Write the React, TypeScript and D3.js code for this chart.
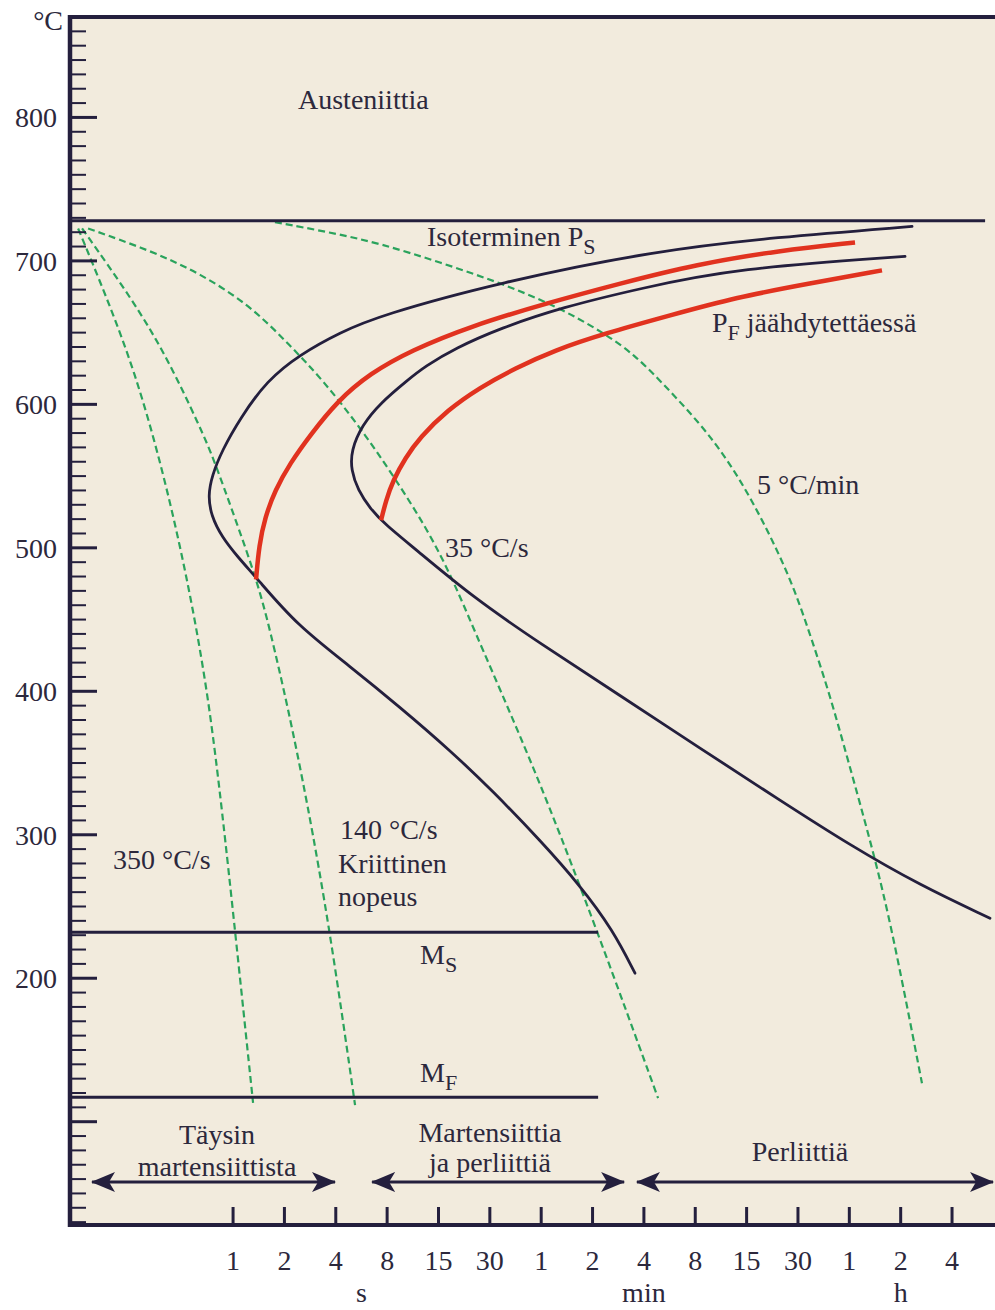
import React, { useEffect, useRef } from "react"
import * as d3 from "d3"

type Pt = [number, number] // [time in s, temperature in °C]

// isothermal transformation: start (outer C) and finish (inner C)
const isoStart: Pt[] = [
  [9548, 724], [1502, 716.4], [306, 707.3], [36.2, 685], [7.27, 662], [4.24, 650.2],
  [2.47, 634.8], [1.58, 616.7], [1.099, 590.2], [0.862, 567.9], [0.753, 550.5],
  [0.714, 536.6], [0.743, 522.6], [0.862, 507.3], [1.07, 493.4], [1.38, 478.7],
  [2.37, 446], [4.85, 417.4], [9.52, 388.9], [18.7, 358.9], [33.4, 330.3],
  [63, 296.2], [108, 264.8], [169, 233.4], [227, 203.5],
]
const isoFinish: Pt[] = [
  [8686, 703.1], [888, 694.8], [243, 680.8], [84.8, 667.6], [36.7, 653], [20, 639],
  [13.35, 626.5], [10.5, 616.7], [7.27, 600.7], [5.7, 585.4], [4.92, 567.9],
  [4.92, 554], [5.4, 540.1], [6.35, 527.5], [7.78, 516.4], [11.4, 500.3],
  [25.5, 465.5], [63, 433.4], [185, 397.2], [546, 360.3], [1607, 324],
  [4135, 292.7], [10630, 264.8], [27350, 241.8],
]

// transformation during continuous cooling (red)
const coolStart: Pt[] = [
  [1.364, 478], [1.42, 501.7], [1.54, 521.3], [1.763, 540.1], [2.158, 558.9],
  [2.827, 578.4], [4.07, 602.1], [6.35, 621.6], [11.05, 637.6], [24.5, 654.4],
  [68.3, 670.4], [185.5, 684.3], [517, 697.6], [1607, 707.3], [4424, 712.9],
]
const coolFinish: Pt[] = [
  [7.37, 519.2], [7.88, 533.1], [8.67, 547], [10.19, 562.4], [12.48, 577],
  [17.96, 595.8], [28, 611.8], [45, 625.1], [76.1, 637.6], [151.5, 649.5],
  [364, 662], [888, 674.6], [2409, 684.3], [6366, 693.4],
]

// cooling curves (green, dashed)
const rate350: Pt[] = [
  [0.1235, 722.6], [0.1826, 673.9], [0.2663, 622.3], [0.3733, 561], [0.4892, 501.7],
  [0.607, 446], [0.733, 386.8], [0.862, 317.1], [1.027, 233.4], [1.31, 113.1],
]
const rate140: Pt[] = [
  [0.1303, 722.6], [0.259, 672.5], [0.41, 632.8], [0.641, 584], [0.764, 563],
  [1.027, 520.6], [1.38, 477.4], [1.65, 442.5], [2.101, 388.2], [2.71, 324],
  [3.7, 233.4], [5.19, 111.5],
]
const rate35: Pt[] = [
  [0.1413, 722.6], [0.326, 707.3], [0.641, 691.3], [1.258, 669], [2.158, 641.1],
  [3.37, 616.7], [5.55, 584], [8.67, 550.5], [13.9, 512.2], [19.5, 477.4],
  [25.5, 444.6], [42, 385.4], [69.3, 324], [136, 233.4], [310, 116.4],
]
const rate5min: Pt[] = [
  [1.76, 727], [3.7, 719.9], [7.27, 712.2], [16.34, 699], [36.2, 685], [77.1, 669],
  [151.5, 649.5], [227, 634.1], [318, 616.7], [546, 586.8], [797, 561], [1101, 533.1],
  [1502, 501.7], [1968, 470.4], [2475, 435.5], [3156, 397.2], [4023, 351.9],
  [5640, 289.2], [7383, 231.4], [10920, 126.8],
]

const A1_TEMP = 728
const MS_TEMP = 232
const MF_TEMP = 117
const A1_END = 25600 // s
const M_END = 138 // s

const tempLabels = [200, 300, 400, 500, 600, 700, 800]
const timeTicks = [1, 2, 4, 8, 16, 32, 64, 128, 256, 512, 1024, 2048, 4096, 8192, 16384]
const timeTickLabels = ["1", "2", "4", "8", "15", "30", "1", "2", "4", "8", "15", "30", "1", "2", "4"]
const timeUnits = ["s", "min", "h"]
const timeUnitAt = [5.66, 256, 8192]

const regionSpans: [number, number][] = [[0.149, 3.96], [6.53, 196], [233, 28500]]

const W = 995
const H = 1310
const LEFT = 70
const RIGHT = 995
const TOP = 17
const BOTTOM = 1225

const INK = "#241f3d"
const TXT = "#2c283c"
const FONT = "'Liberation Serif', 'Times New Roman', serif"

const drawChart = (svgEl: SVGSVGElement) => {
  const svg = d3.select(svgEl)
  svg.selectAll("*").remove()

  const x = d3.scaleLog().base(2).domain([0.1107, 29260]).range([LEFT, RIGHT])
  const y = d3.scaleLinear().domain([28, 870]).range([BOTTOM, TOP])

  const defs = svg.append("defs")
  defs
    .append("marker")
    .attr("id", "arr")
    .attr("viewBox", "0 0 24 20")
    .attr("refX", 23)
    .attr("refY", 10)
    .attr("markerWidth", 24)
    .attr("markerHeight", 20)
    .attr("markerUnits", "userSpaceOnUse")
    .attr("orient", "auto-start-reverse")
    .append("path")
    .attr("d", "M0,0 L24,10 L0,20 L6,10 Z")
    .attr("fill", INK)

  // plot background
  svg
    .append("rect")
    .attr("x", LEFT)
    .attr("y", TOP)
    .attr("width", RIGHT - LEFT)
    .attr("height", BOTTOM - TOP)
    .attr("fill", "#f2ebdd")

  const line = d3
    .line<Pt>()
    .x(d => x(d[0]))
    .y(d => y(d[1]))
    .curve(d3.curveBasis)

  // cooling curves
  ;[rate350, rate140, rate35, rate5min].forEach(pts => {
    svg
      .append("path")
      .attr("d", line(pts))
      .attr("fill", "none")
      .attr("stroke", "#2aa35c")
      .attr("stroke-width", 2.2)
      .attr("stroke-dasharray", "7,4")
  })

  // horizontal lines A1, Ms, Mf
  const hLines: [number, number][] = [[A1_TEMP, A1_END], [MS_TEMP, M_END], [MF_TEMP, M_END]]
  hLines.forEach(([temp, end]) => {
    svg
      .append("line")
      .attr("x1", LEFT)
      .attr("x2", x(end))
      .attr("y1", y(temp))
      .attr("y2", y(temp))
      .attr("stroke", INK)
      .attr("stroke-width", 3)
  })

  // C-curves
  ;[isoStart, isoFinish].forEach(pts => {
    svg
      .append("path")
      .attr("d", line(pts))
      .attr("fill", "none")
      .attr("stroke", INK)
      .attr("stroke-width", 2.8)
      .attr("stroke-linecap", "round")
  })
  ;[coolStart, coolFinish].forEach(pts => {
    svg
      .append("path")
      .attr("d", line(pts))
      .attr("fill", "none")
      .attr("stroke", "#e1321f")
      .attr("stroke-width", 4.5)
  })

  // y axis ticks
  const yt = svg.append("g")
  d3.range(30, 870, 10).forEach(v => {
    const major = v % 100 === 0
    yt.append("line")
      .attr("x1", LEFT)
      .attr("x2", major ? 97 : 86)
      .attr("y1", y(v))
      .attr("y2", y(v))
      .attr("stroke", INK)
      .attr("stroke-width", major ? 3 : 2)
  })
  tempLabels.forEach(v => {
    yt.append("text")
      .attr("x", 57)
      .attr("y", y(v) + 10)
      .attr("text-anchor", "end")
      .text(v)
  })
  yt.append("text").attr("x", 63).attr("y", 30).attr("text-anchor", "end").text("°C")

  // frame
  svg.append("line").attr("x1", LEFT - 2).attr("x2", RIGHT).attr("y1", TOP).attr("y2", TOP)
    .attr("stroke", INK).attr("stroke-width", 4)
  svg.append("line").attr("x1", LEFT).attr("x2", LEFT).attr("y1", TOP - 2).attr("y2", BOTTOM + 2)
    .attr("stroke", INK).attr("stroke-width", 4.5)
  svg.append("line").attr("x1", LEFT - 2).attr("x2", RIGHT).attr("y1", BOTTOM).attr("y2", BOTTOM)
    .attr("stroke", INK).attr("stroke-width", 4)

  // x axis ticks
  timeTicks.forEach((t, i) => {
    svg.append("line")
      .attr("x1", x(t)).attr("x2", x(t))
      .attr("y1", BOTTOM).attr("y2", BOTTOM - 18)
      .attr("stroke", INK).attr("stroke-width", 3)
    svg.append("text")
      .attr("x", x(t)).attr("y", 1270)
      .attr("text-anchor", "middle")
      .text(timeTickLabels[i])
  })
  timeUnits.forEach((u, i) => {
    svg.append("text")
      .attr("x", x(timeUnitAt[i])).attr("y", 1302)
      .attr("text-anchor", "middle")
      .text(u)
  })

  // region arrows
  regionSpans.forEach(([a, b]) => {
    svg.append("line")
      .attr("x1", x(a)).attr("x2", x(b))
      .attr("y1", 1182).attr("y2", 1182)
      .attr("stroke", INK).attr("stroke-width", 3)
      .attr("marker-start", "url(#arr)")
      .attr("marker-end", "url(#arr)")
  })

  // annotations
  const label = (px: number, py: number, main: string, sub?: string, rest?: string, anchor = "start") => {
    const t = svg.append("text").attr("x", px).attr("y", py).attr("text-anchor", anchor)
    t.append("tspan").text(main)
    if (sub) t.append("tspan").attr("dy", 8).attr("font-size", 22).text(sub)
    if (rest) t.append("tspan").attr("dy", -8).text(rest)
  }
  label(298, 109, "Austeniittia")
  label(427, 246, "Isoterminen P", "S")
  label(712, 332, "P", "F", " jäähdytettäessä")
  label(757, 494, "5 °C/min")
  label(445, 557, "35 °C/s")
  label(113, 869, "350 °C/s")
  label(340, 839, "140 °C/s")
  label(338, 873, "Kriittinen")
  label(338, 906, "nopeus")
  label(420, 964, "M", "S")
  label(420, 1082, "M", "F")
  label(217, 1144, "Täysin", undefined, undefined, "middle")
  label(217, 1176, "martensiittista", undefined, undefined, "middle")
  label(490, 1142, "Martensiittia", undefined, undefined, "middle")
  label(490, 1172, "ja perliittiä", undefined, undefined, "middle")
  label(800, 1161, "Perliittiä", undefined, undefined, "middle")
}

export default function App() {
  const ref = useRef<SVGSVGElement>(null)
  useEffect(() => {
    if (ref.current) drawChart(ref.current)
  }, [])

  return (
    <svg
      ref={ref}
      width={W}
      height={H}
      style={{ position: "absolute", left: 0, top: 0, background: "#fff" }}
      fontFamily={FONT}
      fontSize={28}
      fill={TXT}
    />
  )
}
